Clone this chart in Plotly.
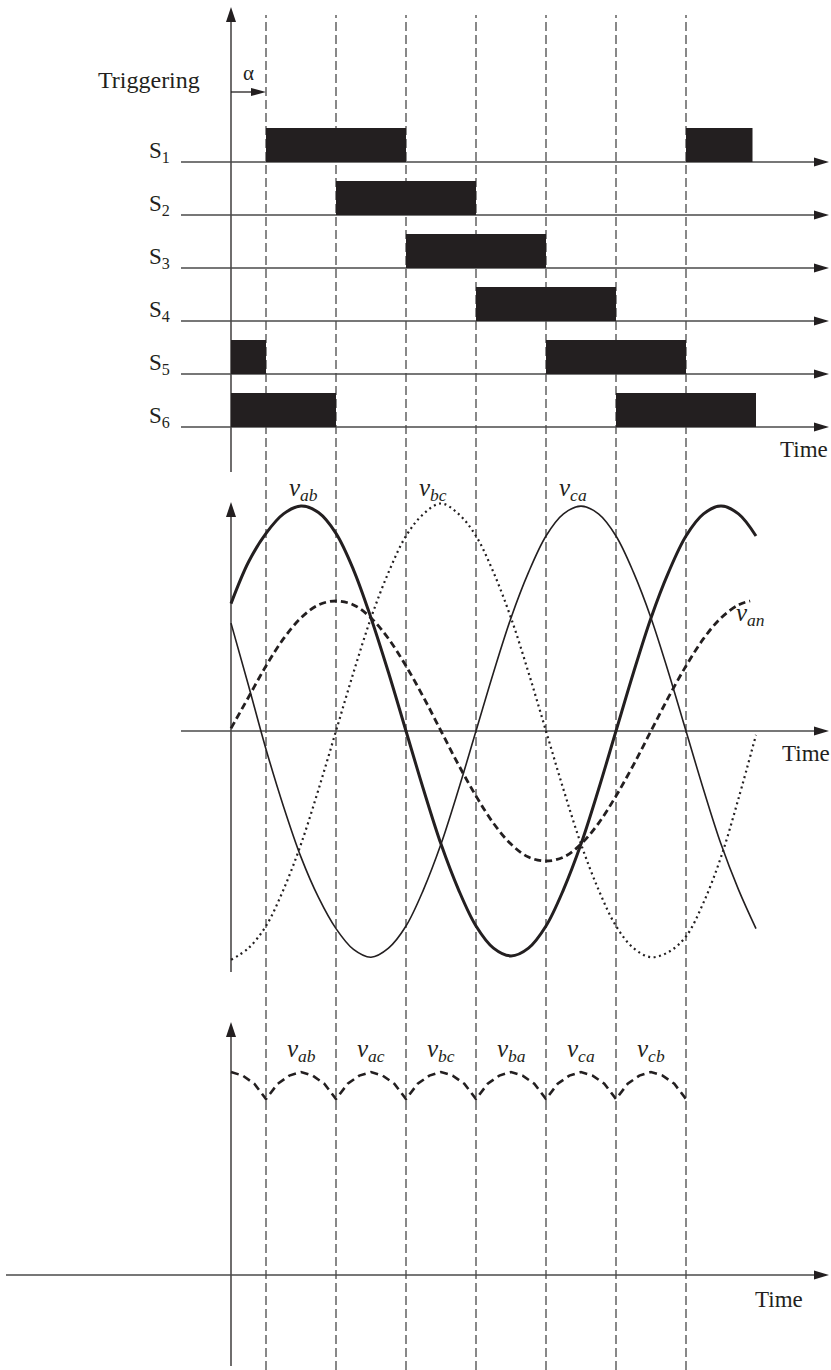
import plotly.graph_objects as go

W, H = 831, 1370

# ------------------------------------------------------------------ data
switch_labels = ["S<sub>1</sub>", "S<sub>2</sub>", "S<sub>3</sub>",
                 "S<sub>4</sub>", "S<sub>5</sub>", "S<sub>6</sub>"]
# gate (conduction) intervals of each switch, electrical degrees
switch_on_start = [[30, 390], [90], [150], [210], [0, 270], [0, 330]]
switch_on_end = [[150, 447], [210], [270], [330], [30, 390], [90, 450]]

alpha_deg = 30
firing_angles = [30, 90, 150, 210, 270, 330, 390]

# line-to-line and phase voltages (per unit of phase peak)
wt_deg = [0, 15, 30, 45, 60, 75, 90, 105, 120, 135, 150, 165, 180, 195, 210,
          225, 240, 255, 270, 285, 300, 315, 330, 345, 360, 375, 390, 405,
          420, 435, 450]
v_ab = [0.98, 1.30, 1.52, 1.67, 1.73, 1.68, 1.52, 1.24, 0.87, 0.45, 0.00,
        -0.45, -0.87, -1.22, -1.50, -1.67, -1.73, -1.67, -1.50, -1.22, -0.87,
        -0.45, 0.00, 0.45, 0.87, 1.22, 1.50, 1.67, 1.73, 1.67, 1.50]
v_bc = [-1.76, -1.67, -1.50, -1.22, -0.87, -0.45, 0.00, 0.45, 0.87, 1.22,
        1.50, 1.67, 1.75, 1.67, 1.50, 1.22, 0.87, 0.45, 0.00, -0.45, -0.87,
        -1.22, -1.50, -1.67, -1.74, -1.70, -1.58, -1.32, -0.97, -0.52, -0.03]
v_ca = [0.83, 0.35, -0.14, -0.58, -0.97, -1.28, -1.52, -1.68, -1.74, -1.67,
        -1.50, -1.22, -0.87, -0.45, 0.00, 0.45, 0.87, 1.22, 1.50, 1.67, 1.73,
        1.67, 1.50, 1.22, 0.87, 0.45, 0.00, -0.45, -0.87, -1.22, -1.52]
wt_an = [0, 15, 30, 45, 60, 75, 90, 105, 120, 135, 150, 165, 180, 195, 210,
         225, 240, 255, 270, 285, 300, 315, 330, 345, 360, 375, 390, 405,
         420, 435, 445]
v_an = [0.02, 0.26, 0.50, 0.71, 0.87, 0.97, 1.00, 0.97, 0.87, 0.71, 0.50,
        0.26, 0.00, -0.26, -0.50, -0.71, -0.87, -0.97, -1.00, -0.97, -0.87,
        -0.71, -0.50, -0.26, 0.00, 0.26, 0.50, 0.71, 0.87, 0.97, 1.00]

# rectified output voltage
wt_out = [0, 10, 20, 30, 40, 50, 60, 70, 80, 90, 100, 110, 120, 130, 140,
          150, 160, 170, 180, 190, 200, 210, 220, 230, 240, 250, 260, 270,
          280, 290, 300, 310, 320, 330, 340, 350, 360, 370, 380, 390]
v_out = [1.73, 1.70, 1.63, 1.50, 1.63, 1.70, 1.73, 1.70, 1.63, 1.50,
         1.63, 1.70, 1.73, 1.70, 1.63, 1.50, 1.63, 1.70, 1.73, 1.70,
         1.63, 1.50, 1.63, 1.70, 1.73, 1.70, 1.63, 1.50, 1.63, 1.70,
         1.73, 1.70, 1.63, 1.50, 1.63, 1.70, 1.73, 1.70, 1.63, 1.50]
out_segment_labels = ["ab", "ac", "bc", "ba", "ca", "cb"]

# ------------------------------------------------------------------ layout helpers
INK = "#231f20"
AXC = "#4a4a4a"
FONT = "Liberation Serif, DejaVu Serif, serif"

X0_PX = 231            # pixel column of the vertical axes (wt = 0)
PX_PER_DEG = 70 / 60


def px2deg(px):
    return (px - X0_PX) / PX_PER_DEG


def pfy(py):
    return 1 - py / H


TOP_BASE_PX, TOP_PITCH = 162, 53
MID_ZERO_PX, MID_SCALE = 731, 130
BOT_ZERO_PX, BOT_SCALE = 1275, 117.3

x_range = [px2deg(0), px2deg(W)]
y_top_range = [(TOP_BASE_PX - H) / TOP_PITCH, TOP_BASE_PX / TOP_PITCH]
y_mid_range = [(MID_ZERO_PX - H) / MID_SCALE, MID_ZERO_PX / MID_SCALE]
y_bot_range = [(BOT_ZERO_PX - H) / BOT_SCALE, BOT_ZERO_PX / BOT_SCALE]


def ytop(py):
    return (TOP_BASE_PX - py) / TOP_PITCH


def ymid(py):
    return (MID_ZERO_PX - py) / MID_SCALE


def ybot(py):
    return (BOT_ZERO_PX - py) / BOT_SCALE


fig = go.Figure()

# ---------------- switching pulses
for k in range(len(switch_labels)):
    s = switch_on_start[k]
    e = switch_on_end[k]
    fig.add_trace(go.Bar(
        orientation="h", y=[-k] * len(s), base=s,
        x=[b - a for a, b in zip(s, e)],
        width=0.64, offset=0,
        marker=dict(color=INK, line=dict(width=0)),
        xaxis="x", yaxis="y", hoverinfo="skip", showlegend=False))

# ---------------- source voltages
fig.add_trace(go.Scatter(x=wt_an, y=v_an, mode="lines", yaxis="y2",
                         line=dict(color=INK, width=2.8, dash="7px,4px", shape="spline"),
                         hoverinfo="skip"))
fig.add_trace(go.Scatter(x=wt_deg, y=v_bc, mode="lines", yaxis="y2",
                         line=dict(color=INK, width=2.2, dash="2px,3.5px", shape="spline"),
                         hoverinfo="skip"))
fig.add_trace(go.Scatter(x=wt_deg, y=v_ca, mode="lines", yaxis="y2",
                         line=dict(color=INK, width=1.6, shape="spline"),
                         hoverinfo="skip"))
fig.add_trace(go.Scatter(x=wt_deg, y=v_ab, mode="lines", yaxis="y2",
                         line=dict(color=INK, width=3.0, shape="spline"),
                         hoverinfo="skip"))

# ---------------- output voltage
fig.add_trace(go.Scatter(x=wt_out, y=v_out, mode="lines", yaxis="y3",
                         line=dict(color=INK, width=2.6, dash="8px,5px"),
                         hoverinfo="skip"))

shapes = []
annotations = []

# dashed firing-instant lines
for a in firing_angles:
    shapes.append(dict(type="line", xref="x", yref="paper", x0=a, x1=a,
                       y0=0, y1=pfy(15), layer="below",
                       line=dict(color="#3a3a3a", width=1.2, dash="9px,4px")))


def head(x, y, xref, yref, direction, length=15, half=4.5):
    if direction == "right":
        path = f"M0,0 L{-length},{half} L{-length},{-half} Z"
    else:
        path = f"M0,0 L{-half},{-length} L{half},{-length} Z"
    return dict(type="path", xref=xref, yref=yref, xsizemode="pixel",
                ysizemode="pixel", xanchor=x, yanchor=y, path=path,
                fillcolor=INK, line=dict(width=0), layer="above")


tip_x = px2deg(829)

# top panel: switch baselines
for k in range(len(switch_labels)):
    shapes.append(dict(type="line", xref="x", yref="y", x0=px2deg(181), x1=tip_x - 5,
                       y0=-k, y1=-k, layer="below", line=dict(color=AXC, width=1.7)))
    shapes.append(head(tip_x, -k, "x", "y", "right"))
    annotations.append(dict(x=px2deg(172), y=-k - 0.12, xref="x", yref="y",
                            text=switch_labels[k], showarrow=False,
                            xanchor="right", yanchor="bottom",
                            font=dict(family=FONT, size=23, color=INK)))

# vertical axes
for top_px, bot_px in [(7, 472), (502, 972), (1022, 1366)]:
    shapes.append(dict(type="line", xref="x", yref="paper", x0=0, x1=0,
                       y0=pfy(bot_px), y1=pfy(top_px + 4), layer="below",
                       line=dict(color=INK, width=1.3)))
    shapes.append(head(0, pfy(top_px), "x", "paper", "up", length=15, half=5))

# time axes
shapes.append(dict(type="line", xref="x", yref="y2", x0=px2deg(181), x1=tip_x - 5,
                   y0=0, y1=0, layer="below", line=dict(color=AXC, width=1.7)))
shapes.append(head(tip_x, 0, "x", "y2", "right"))
shapes.append(dict(type="line", xref="x", yref="y3", x0=px2deg(6), x1=tip_x - 5,
                   y0=0, y1=0, layer="below", line=dict(color=AXC, width=1.7)))
shapes.append(head(tip_x, 0, "x", "y3", "right"))

# alpha arrow
shapes.append(dict(type="line", xref="x", yref="y", x0=0, x1=alpha_deg - 4,
                   y0=ytop(92), y1=ytop(92), line=dict(color=INK, width=1.3)))
shapes.append(head(alpha_deg, ytop(92), "x", "y", "right", length=15, half=4))

annotations.append(dict(x=alpha_deg / 2, y=ytop(73), xref="x", yref="y", text="α",
                        showarrow=False, font=dict(family=FONT, size=21, color=INK)))
annotations.append(dict(x=px2deg(148.5), y=ytop(80), xref="x", yref="y", text="Triggering",
                        showarrow=False, font=dict(family=FONT, size=24, color=INK)))

# "Time" labels
for xpx, ref, yv in [(804, "y", ytop(449)), (806, "y2", ymid(753)), (779, "y3", ybot(1299))]:
    annotations.append(dict(x=px2deg(xpx), y=yv, xref="x", yref=ref, text="Time",
                            showarrow=False, font=dict(family=FONT, size=23, color=INK)))

# waveform labels
for txt, xd, yv in [("ab", 62, ymid(489)), ("bc", 173, ymid(489)),
                    ("ca", 293, ymid(489)), ("an", 445, ymid(614))]:
    annotations.append(dict(x=xd, y=yv, xref="x", yref="y2",
                            text=f"v<sub>{txt}</sub>", showarrow=False,
                            font=dict(family=FONT, size=25, color=INK, style="italic")))

for i, lab in enumerate(out_segment_labels):
    mid = (firing_angles[i] + firing_angles[i + 1]) / 2
    annotations.append(dict(x=mid, y=ybot(1050), xref="x", yref="y3",
                            text=f"v<sub>{lab}</sub>", showarrow=False,
                            font=dict(family=FONT, size=25, color=INK, style="italic")))

fig.update_layout(
    width=W, height=H, autosize=False,
    margin=dict(l=0, r=0, t=0, b=0, pad=0),
    paper_bgcolor="white", plot_bgcolor="white",
    showlegend=False, barmode="overlay",
    font=dict(family=FONT, color=INK),
    xaxis=dict(range=x_range, visible=False, domain=[0, 1], fixedrange=True),
    yaxis=dict(range=y_top_range, visible=False, domain=[0, 1], fixedrange=True),
    yaxis2=dict(range=y_mid_range, visible=False, overlaying="y", fixedrange=True),
    yaxis3=dict(range=y_bot_range, visible=False, overlaying="y", fixedrange=True),
    shapes=shapes, annotations=annotations,
)

fig.write_html("out.html", config={"displayModeBar": False},
               post_script="document.body.style.margin='0';document.body.style.overflow='hidden';")
